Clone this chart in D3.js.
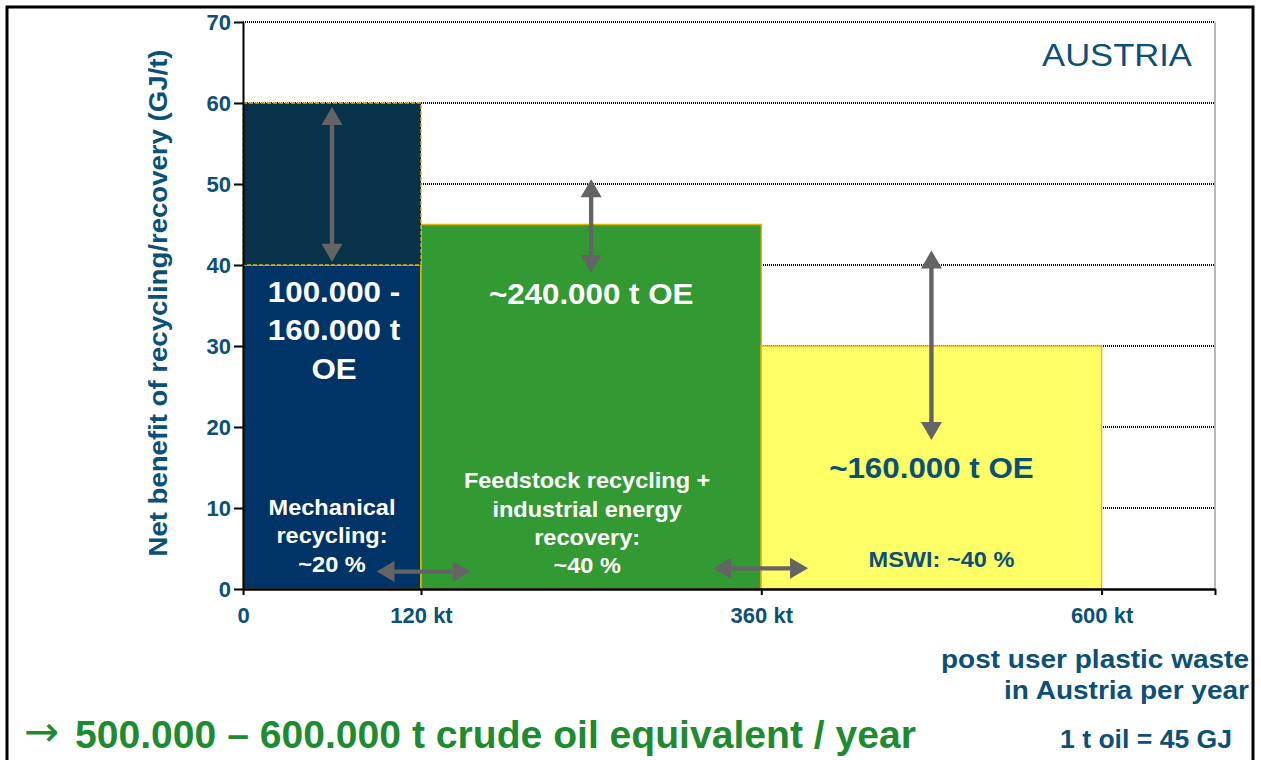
<!DOCTYPE html>
<html>
<head>
<meta charset="utf-8">
<script src="https://cdn.jsdelivr.net/npm/d3@7"></script>
<style>
  html, body { margin: 0; background: #fff; }
  svg { display: block; }
</style>
</head>
<body>
<div id="chart"></div>
<script>
// Net benefit of recycling / recovery of post user plastic waste, Austria.
// Block widths are the waste tonnage (kt), heights the benefit in GJ/t.

const xTicks = [0, 120, 360, 600];
const xTickLabels = ["0", "120 kt", "360 kt", "600 kt"];
const xAxisEnd = 680;
const yTicks = [0, 10, 20, 30, 40, 50, 60, 70];

const blockStart = [0, 120, 360];
const blockEnd = [120, 360, 600];
const blockValue = [40, 45, 30];
const blockColor = ["#003366", "#339933", "#ffff66"];
// mechanical recycling has an upper range on top of its block
const rangeLow = 40;
const rangeHigh = 60;

// double arrows (data units)
const vArrowX = [60, 240, 480];
const vArrowTop = [59.5, 50.6, 41.8];
const vArrowBottom = [40.4, 39.0, 18.4];
const hArrowY = [2.15, 2.55];
const hArrowFrom = [90, 326];
const hArrowTo = [155, 393];

const amountLabels = [["100.000 -", "160.000 t", "OE"], ["~240.000 t OE"], ["~160.000 t OE"]];
const shareLabels = [
  ["Mechanical", "recycling:", "~20 %"],
  ["Feedstock recycling +", "industrial energy", "recovery:", "~40 %"],
  ["MSWI: ~40 %"],
];

const TEAL = "#0b5079";
const GOLD = "#e6b400";
const GREEN_TXT = "#1e8b30";

const W = 1261, H = 760;
const svg = d3.select("#chart").append("svg")
  .attr("width", W).attr("height", H)
  .style("font-family", "'Liberation Sans', Arial, sans-serif");

const x = d3.scaleLinear().domain([0, 120, xAxisEnd]).range([243, 421, 1215]);
const y = d3.scaleLinear().domain([0, 70]).range([589, 22]);

// outer frame
svg.append("rect")
  .attr("x", 7).attr("y", 7).attr("width", 1246).attr("height", 800)
  .attr("fill", "none").attr("stroke", "#000").attr("stroke-width", 3);

// dotted gridlines
svg.append("g").selectAll("line").data(yTicks.filter((d) => d > 0)).join("line")
  .attr("x1", x(0)).attr("x2", x(xAxisEnd))
  .attr("y1", (d) => y(d)).attr("y2", (d) => y(d))
  .attr("stroke", "#000").attr("stroke-width", 2).attr("stroke-dasharray", "1,1");

// right edge of the plot
svg.append("line")
  .attr("x1", x(xAxisEnd)).attr("x2", x(xAxisEnd))
  .attr("y1", y(70)).attr("y2", y(0))
  .attr("stroke", "#a0a0a0").attr("stroke-width", 1.5);

// blocks
svg.append("g").selectAll("rect").data(blockValue).join("rect")
  .attr("x", (d, i) => x(blockStart[i]))
  .attr("width", (d, i) => x(blockEnd[i]) - x(blockStart[i]))
  .attr("y", (d) => y(d))
  .attr("height", (d) => y(0) - y(d))
  .attr("fill", (d, i) => blockColor[i])
  .attr("stroke", (d, i) => (i === 2 ? "#f2b51c" : GOLD))
  .attr("stroke-width", 1.5);

// upper range of mechanical recycling
svg.append("rect")
  .attr("x", x(blockStart[0]))
  .attr("width", x(blockEnd[0]) - x(blockStart[0]))
  .attr("y", y(rangeHigh))
  .attr("height", y(rangeLow) - y(rangeHigh))
  .attr("fill", "#07324a")
  .attr("stroke", GOLD).attr("stroke-width", 1.3).attr("stroke-dasharray", "4,2");

// axes
const yAxis = svg.append("g")
  .attr("transform", `translate(${x(0)},0)`)
  .call(d3.axisLeft(y).tickValues(yTicks).tickSize(9).tickSizeOuter(0).tickPadding(3));
yAxis.select(".domain").attr("stroke", "#000").attr("stroke-width", 2);
yAxis.selectAll(".tick line").attr("stroke", "#000").attr("stroke-width", 2);
yAxis.selectAll("text")
  .attr("fill", TEAL).style("font-size", "22px").style("font-weight", "bold");

const xAxis = svg.append("g")
  .attr("transform", `translate(0,${y(0)})`)
  .call(d3.axisBottom(x).tickValues([...xTicks, xAxisEnd])
    .tickFormat((d, i) => xTickLabels[i] ?? "")
    .tickSize(6).tickSizeOuter(0).tickPadding(12));
xAxis.select(".domain").attr("stroke", "#000").attr("stroke-width", 2.5);
xAxis.selectAll(".tick line").attr("stroke", "#000").attr("stroke-width", 2);
xAxis.selectAll("text")
  .attr("fill", TEAL).style("font-size", "22px").style("font-weight", "bold");

svg.append("text")
  .attr("transform", `translate(167,303) rotate(-90)`)
  .attr("text-anchor", "middle")
  .attr("fill", TEAL).style("font-size", "26px").style("font-weight", "bold")
  .attr("textLength", 507).attr("lengthAdjust", "spacingAndGlyphs")
  .text("Net benefit of recycling/recovery (GJ/t)");

// double-headed arrow as one filled outline
function arrowPath(x1, y1, x2, y2, shaft = 2.2, head = 10.5, len = 18) {
  const dx = x2 - x1, dy = y2 - y1, L = Math.hypot(dx, dy);
  const ux = dx / L, uy = dy / L, nx = -uy, ny = ux;
  const pts = [[0, 0], [len, head], [len, shaft], [L - len, shaft], [L - len, head],
    [L, 0], [L - len, -head], [L - len, -shaft], [len, -shaft], [len, -head]];
  return "M" + pts.map(([a, b]) => [x1 + ux * a + nx * b, y1 + uy * a + ny * b].join(",")).join("L") + "Z";
}

const arrows = svg.append("g").attr("fill", "#646464");
vArrowX.forEach((v, i) => {
  arrows.append("path").attr("d", arrowPath(x(v), y(vArrowTop[i]), x(v), y(vArrowBottom[i])));
});
hArrowY.forEach((v, i) => {
  arrows.append("path").attr("d", arrowPath(x(hArrowFrom[i]), y(v), x(hArrowTo[i]), y(v)));
});

// text block centred on a point, stretched a little horizontally
function block(lines, cx, baselines, size, fill, sx, weight = "bold") {
  lines.forEach((s, i) => {
    svg.append("text")
      .attr("transform", `translate(${cx},${baselines[i]}) scale(${sx},1)`)
      .attr("text-anchor", "middle")
      .attr("fill", fill)
      .style("font-size", size + "px").style("font-weight", weight)
      .text(s);
  });
}

const mid = (i) => x((blockStart[i] + blockEnd[i]) / 2);
block(amountLabels[0], mid(0) + 2, [302, 340, 379], 29, "#fff", 1.08);
block(amountLabels[1], mid(1), [304], 29, "#fff", 1.08);
block(amountLabels[2], mid(2), [478], 29, TEAL, 1.08);
block(shareLabels[0], mid(0), [515, 543, 572], 22, "#fff", 1.07);
block(shareLabels[1], mid(1) - 4, [488, 517, 545, 573], 22, "#fff", 1.07);
block(shareLabels[2], mid(2) + 10, [567], 22, TEAL, 1.07);

block(["AUSTRIA"], 1117, [66], 32, TEAL, 1.08, "normal");

// notes below the chart
function note(s, xEnd, base, size, width, fill, anchor = "end") {
  return svg.append("text")
    .attr("x", xEnd).attr("y", base)
    .attr("text-anchor", anchor)
    .attr("fill", fill)
    .style("font-size", size + "px").style("font-weight", "bold")
    .attr("textLength", width).attr("lengthAdjust", "spacingAndGlyphs")
    .text(s);
}
note("post user plastic waste", 1249, 668, 26, 308, TEAL);
note("in Austria per year", 1249, 699, 26, 245, TEAL);
note("1 t oil = 45 GJ", 1232, 748, 25, 172, TEAL);

// arrow glyph in DejaVu for a heavier shape, then the summary line
svg.append("text")
  .attr("x", 24).attr("y", 746)
  .attr("fill", GREEN_TXT)
  .style("font-family", "'DejaVu Sans', sans-serif")
  .style("font-size", "42px")
  .text("\u2192");
note("500.000 \u2013 600.000 t crude oil equivalent / year", 75, 748, 39, 841, GREEN_TXT, "start");
</script>
</body>
</html>
